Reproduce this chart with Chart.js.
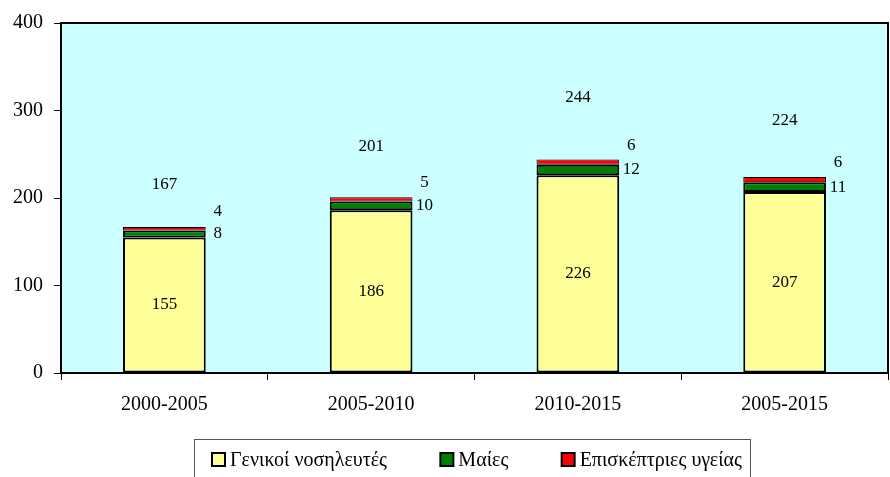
<!DOCTYPE html>
<html>
<head>
<meta charset="utf-8">
<script src="https://cdn.jsdelivr.net/npm/chart.js@4/dist/chart.umd.min.js"></script>
<style>
html,body{margin:0;padding:0;background:#fff;}
canvas{display:block;}
</style>
</head>
<body>
<canvas id="c" width="890" height="477"></canvas>
<script>
const categories = ['2000-2005', '2005-2010', '2010-2015', '2005-2015'];
const nurses = [155, 186, 226, 207];
const midwives = [8, 10, 12, 11];
const visitors = [4, 5, 6, 6];
const totals = [167, 201, 244, 224];
const seriesNames = ['Γενικοί νοσηλευτές', 'Μαίες', 'Επισκέπτριες υγείας'];
const seriesColors = ['#FFFF99', '#008000', '#FF0000'];
const yTicks = [0, 100, 200, 300, 400];

const FONT = '"Liberation Serif", "DejaVu Serif", serif';

const bgPlugin = {
  id: 'bg',
  beforeDraw(chart) {
    const {ctx, chartArea: a} = chart;
    ctx.save();
    ctx.fillStyle = '#CCFFFF';
    ctx.fillRect(a.left, a.top, a.right - a.left, a.bottom - a.top);
    ctx.restore();
  }
};

const borderPlugin = {
  id: 'plotBorder',
  afterDatasetsDraw(chart) {
    const {ctx, chartArea: a} = chart;
    ctx.save();
    ctx.strokeStyle = '#000';
    ctx.lineWidth = 2;
    ctx.strokeRect(a.left, a.top, a.right - a.left, a.bottom - a.top);
    ctx.restore();
  }
};

const labelPlugin = {
  id: 'labels',
  afterDraw(chart) {
    const {ctx} = chart;
    const y = chart.scales.y;
    ctx.save();
    ctx.fillStyle = '#000';
    ctx.font = '17px ' + FONT;
    ctx.textAlign = 'center';
    ctx.textBaseline = 'middle';
    const m0 = chart.getDatasetMeta(0).data;
    const m1 = chart.getDatasetMeta(1).data;
    const m2 = chart.getDatasetMeta(2).data;
    categories.forEach((c, i) => {
      const b0 = m0[i], b1 = m1[i], b2 = m2[i];
      ctx.fillText(String(nurses[i]), b0.x, (b0.y + b0.base) / 2);
      const right = b1.x + b1.width / 2 + 12;
      ctx.fillText(String(midwives[i]), right, (b1.y + b1.base) / 2);
      ctx.fillText(String(visitors[i]), right, (b2.y + b2.base) / 2 - 17);
      ctx.fillText(String(totals[i]), b0.x, y.getPixelForValue(totals[i] * 1.29));
    });
    ctx.restore();
  }
};

const legendPlugin = {
  id: 'customLegend',
  afterDraw(chart) {
    const {ctx} = chart;
    ctx.save();
    ctx.font = '20px ' + FONT;
    const box = 13, gap = 5;
    const widths = seriesNames.map(s => ctx.measureText(s).width);
    const startX = 212, endX = 742;
    const content = widths.reduce((a, w) => a + box + gap + w, 0);
    const spacing = (endX - startX - content) / (seriesNames.length - 1);
    ctx.strokeStyle = '#555';
    ctx.lineWidth = 1;
    ctx.strokeRect(194.5, 439.5, 556, 50);
    const cy = 460;
    let x = startX;
    ctx.textBaseline = 'middle';
    ctx.textAlign = 'left';
    seriesNames.forEach((s, i) => {
      ctx.fillStyle = seriesColors[i];
      ctx.fillRect(x, cy - 7, box, box);
      ctx.strokeStyle = '#000';
      ctx.lineWidth = 2;
      ctx.strokeRect(x, cy - 7, box, box);
      ctx.fillStyle = '#000';
      ctx.fillText(s, x + box + gap, cy + 1);
      x += box + gap + widths[i] + spacing;
    });
    ctx.restore();
  }
};

const ds = (label, data, color, bw) => ({
  label, data,
  backgroundColor: color,
  borderColor: '#000',
  borderWidth: bw,
  borderSkipped: false,
  barPercentage: 0.4,
  categoryPercentage: 1.0
});

new Chart(document.getElementById('c'), {
  type: 'bar',
  data: {
    labels: categories,
    datasets: [
      ds(seriesNames[0], nurses, seriesColors[0], 2),
      ds(seriesNames[1], midwives, seriesColors[1], 2),
      ds(seriesNames[2], visitors, seriesColors[2], 1)
    ]
  },
  options: {
    responsive: false,
    animation: false,
    devicePixelRatio: 1,
    layout: {padding: {top: 17, right: 2, bottom: 0, left: 0}},
    plugins: {legend: {display: false}, tooltip: {enabled: false}},
    scales: {
      x: {
        stacked: true,
        offset: true,
        grid: {offset: true, drawOnChartArea: false, drawTicks: true, tickLength: 7, color: '#000', lineWidth: 1},
        border: {display: false},
        ticks: {color: '#000', font: {family: FONT, size: 20}, padding: 13, maxRotation: 0},
        afterFit(s) { s.height = 104; }
      },
      y: {
        stacked: true,
        min: yTicks[0],
        max: yTicks[yTicks.length - 1],
        afterBuildTicks(s) { s.ticks = yTicks.map(v => ({value: v})); },
        grid: {drawOnChartArea: false, drawTicks: true, tickLength: 7, color: '#000', lineWidth: 1},
        border: {display: false},
        ticks: {color: '#000', font: {family: FONT, size: 20}, padding: 11},
        afterFit(s) { s.width = 61; }
      }
    }
  },
  plugins: [bgPlugin, borderPlugin, labelPlugin, legendPlugin]
});
</script>
</body>
</html>
